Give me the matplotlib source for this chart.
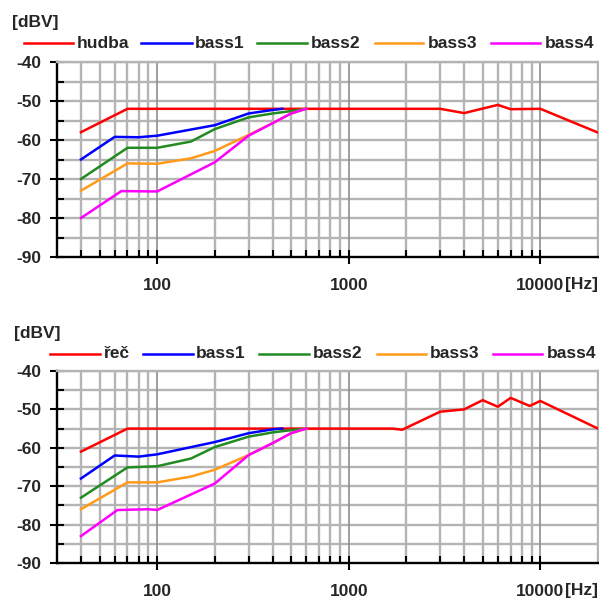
import matplotlib
matplotlib.use("Agg")
import matplotlib.pyplot as plt
from matplotlib.lines import Line2D
from matplotlib.ticker import FixedLocator, NullFormatter

plt.rcParams['font.family'] = ['Liberation Sans', 'DejaVu Sans']
plt.rcParams['font.weight'] = 'bold'

# ---------------- data ----------------
x_ticks = [100, 1000, 10000]
x_tick_labels = ['100', '1000', '10000']
y_ticks = [-90, -80, -70, -60, -50, -40]
y_tick_labels = ['-90', '-80', '-70', '-60', '-50', '-40']
series_names_top = ['hudba', 'bass1', 'bass2', 'bass3', 'bass4']
series_names_bot = ['řeč', 'bass1', 'bass2', 'bass3', 'bass4']
colors = ['#ff0000', '#0000ff', '#228b22', '#ff9a1a', '#ff00ff']

# top chart (hudba)
hudba_f = [40, 70, 3000, 4000, 6000, 7000, 10000, 20000]
hudba_v = [-58, -52, -52, -53.1, -51, -52.1, -52, -58.1]
t_bass1_f = [40, 60, 80, 100, 200, 300, 400, 450]
t_bass1_v = [-65, -59.2, -59.3, -58.9, -56.2, -53.2, -52.3, -52]
t_bass2_f = [40, 70, 100, 150, 200, 300, 400, 500, 600]
t_bass2_v = [-70, -62, -62, -60.4, -57.2, -54.2, -53.2, -52.6, -52]
t_bass3_f = [40, 70, 100, 150, 200, 300, 400, 500, 600]
t_bass3_v = [-73, -66, -66.1, -64.7, -62.8, -58.7, -55.7, -53.2, -52]
t_bass4_f = [40, 65, 100, 200, 300, 400, 500, 600]
t_bass4_v = [-80, -73.1, -73.2, -65.7, -58.9, -55.7, -53.2, -52]

# bottom chart (řeč)
rec_f = [40, 70, 1700, 1900, 3000, 4000, 5000, 6000, 7000, 8800, 10000, 20000]
rec_v = [-61, -55, -55, -55.3, -50.6, -50, -47.6, -49.3, -47, -49.1, -47.8, -55]
b_bass1_f = [40, 60, 80, 100, 200, 300, 400, 450]
b_bass1_v = [-68, -62, -62.3, -61.7, -58.5, -56.2, -55.2, -55]
b_bass2_f = [40, 70, 100, 150, 200, 300, 400, 500, 600]
b_bass2_v = [-73, -65.1, -64.8, -62.8, -59.8, -57.1, -56, -55.4, -55]
b_bass3_f = [40, 70, 100, 150, 200, 300, 400, 500, 600]
b_bass3_v = [-76, -69, -69, -67.5, -65.7, -61.9, -58.8, -56.2, -55]
b_bass4_f = [40, 62, 90, 100, 200, 300, 400, 500, 600]
b_bass4_v = [-83, -76.2, -76, -76.2, -69.3, -61.9, -58.8, -56.2, -55]

top_series = [(hudba_f, hudba_v), (t_bass1_f, t_bass1_v), (t_bass2_f, t_bass2_v),
              (t_bass3_f, t_bass3_v), (t_bass4_f, t_bass4_v)]
bot_series = [(rec_f, rec_v), (b_bass1_f, b_bass1_v), (b_bass2_f, b_bass2_v),
              (b_bass3_f, b_bass3_v), (b_bass4_f, b_bass4_v)]

# ---------------- layout ----------------
W, H = 599, 600
fig = plt.figure(figsize=(W / 100, H / 100), dpi=100)

def fx(px):
    return px / W

def fy(py):
    return 1 - py / H

minor_x = [40, 50, 60, 70, 80, 90, 200, 300, 400, 500, 600, 700, 800, 900,
           2000, 3000, 4000, 5000, 6000, 7000, 8000, 9000]
minor_y = [-85, -75, -65, -55, -45]
grid_y = [-85, -80, -75, -70, -65, -60, -55, -50, -45, -40]

FS = 12.5
TXT = '#262626'
GRID = '#b4b4b4'

def make_axes(top_px, bot_px, series, names, leg_y, leg_pos, unit_y, unit_x):
    ax = fig.add_axes([fx(57), fy(bot_px), fx(598) - fx(57), (bot_px - top_px) / H])
    ax.set_xscale('log')
    ax.set_xlim(30, 20000)
    ax.set_ylim(-90, -40)
    ax.xaxis.set_major_locator(FixedLocator(x_ticks))
    ax.set_xticklabels(x_tick_labels)
    ax.xaxis.set_minor_locator(FixedLocator(minor_x))
    ax.xaxis.set_minor_formatter(NullFormatter())
    ax.set_yticks(y_ticks)
    ax.set_yticklabels(y_tick_labels)
    ax.yaxis.set_minor_locator(FixedLocator(minor_y))
    ax.tick_params(axis='both', which='major', direction='inout', length=10,
                   width=1.5, color='black', labelsize=FS, labelcolor=TXT)
    ax.tick_params(axis='both', which='minor', direction='in', length=5,
                   width=1.5, color='black')
    ax.tick_params(axis='x', which='major', pad=10)
    ax.tick_params(axis='y', which='major', pad=6)
    # grid
    ax.vlines(minor_x, -90, -40, colors=GRID, lw=1.7, zorder=0.8)
    ax.vlines(x_ticks, -90, -40, colors='#8f8f8f', lw=1.2, zorder=0.9)
    ax.hlines(grid_y, 30, 20000, colors=GRID, lw=1.7, zorder=0.8)
    ax.spines['top'].set_color(GRID)
    ax.spines['right'].set_color(GRID)
    for s in ['top', 'right', 'left', 'bottom']:
        ax.spines[s].set_linewidth(1.7)
    for lab in ax.get_xticklabels() + ax.get_yticklabels():
        lab.set_fontweight('bold')
    for (f, v), c in zip(series, colors):
        ax.plot(f, v, color=c, lw=1.8, zorder=3, solid_joinstyle='round')
    # legend (manual, one row)
    for (x0, x1, xt), name, c in zip(leg_pos, names, colors):
        fig.add_artist(Line2D([fx(x0), fx(x1)], [fy(leg_y), fy(leg_y)],
                              color=c, lw=1.8))
        fig.text(fx(xt), fy(leg_y), name, fontsize=FS, fontweight='bold',
                 color=TXT, ha='left', va='center')
    fig.text(fx(unit_x), fy(unit_y), '[dBV]', fontsize=FS, fontweight='bold',
             color=TXT, ha='left', va='center')
    ax.annotate('[Hz]', xy=(1.0, 0.0), xycoords='axes fraction',
                xytext=(0, -27), textcoords='offset pixels',
                ha='right', va='center', fontsize=FS, fontweight='bold',
                color=TXT, annotation_clip=False)
    return ax

leg_top = [(24, 73, 77), (141, 192, 195), (257, 307, 311), (375, 423, 428), (491, 540, 545)]
leg_bot = [(50, 100, 103), (143, 193, 196), (259, 309, 313), (377, 426, 430), (493, 542, 547)]

make_axes(62, 257, top_series, series_names_top, 43, leg_top, 23, 12)
make_axes(371, 563, bot_series, series_names_bot, 354, leg_bot, 333, 14)

fig.savefig('out.png', dpi=100)
